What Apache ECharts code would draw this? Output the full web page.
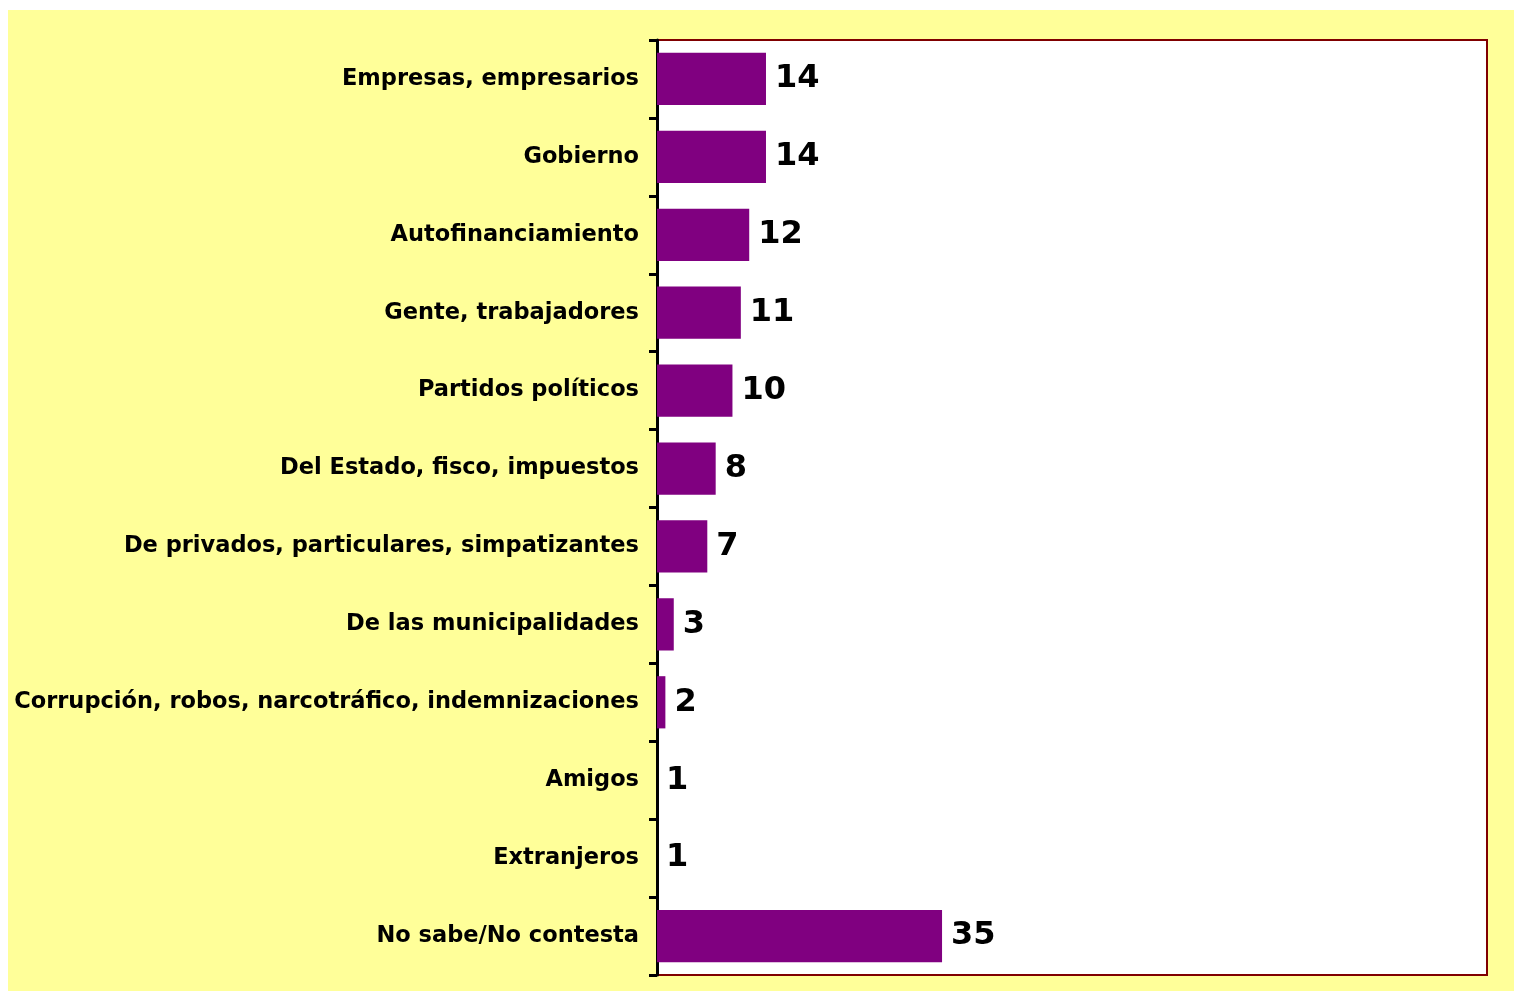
<!DOCTYPE html>
<html>
<head>
<meta charset="utf-8">
<script src="https://cdn.jsdelivr.net/npm/echarts@6/dist/echarts.min.js"></script>
<style>
  html, body { margin: 0; padding: 0; background: #ffffff; }
  #chart { position: absolute; left: 8px; top: 10px; width: 1506px; height: 981px; }
</style>
</head>
<body>
<div id="chart"></div>
<script>
// categorias (de arriba hacia abajo)
var categorias = [
  'Empresas, empresarios',
  'Gobierno',
  'Autofinanciamiento',
  'Gente, trabajadores',
  'Partidos políticos',
  'Del Estado, fisco, impuestos',
  'De privados, particulares, simpatizantes',
  'De las municipalidades',
  'Corrupción, robos, narcotráfico, indemnizaciones',
  'Amigos',
  'Extranjeros',
  'No sabe/No contesta'
];
// porcentajes
var valores = [14, 14, 12, 11, 10, 8, 7, 3, 2, 1, 1, 35];

var chart = echarts.init(document.getElementById('chart'));

var option = {
  backgroundColor: '#ffff99',
  animation: false,
  grid: {
    left: 649,
    top: 30,
    right: 27,
    bottom: 16,
    show: true,
    backgroundColor: '#ffffff',
    borderColor: '#800000',
    borderWidth: 2
  },
  xAxis: {
    type: 'value',
    min: 1,
    max: 100,
    show: false
  },
  yAxis: {
    type: 'category',
    data: categorias,
    inverse: true,
    axisLine: { show: true, lineStyle: { color: '#000000', width: 3 } },
    axisTick: { show: true, length: 8, lineStyle: { color: '#000000', width: 3 } },
    axisLabel: {
      color: '#000000',
      fontFamily: 'DejaVu Sans',
      fontWeight: 'bold',
      fontSize: 22.5,
      margin: 18
    },
    splitLine: { show: false }
  },
  series: [{
    type: 'bar',
    data: valores,
    barCategoryGap: '33%',
    itemStyle: { color: '#800080' },
    label: {
      show: true,
      position: 'right',
      distance: 9,
      color: '#000000',
      fontFamily: 'DejaVu Sans',
      fontWeight: 'bold',
      fontSize: 32
    }
  }]
};

chart.setOption(option);
</script>
</body>
</html>
